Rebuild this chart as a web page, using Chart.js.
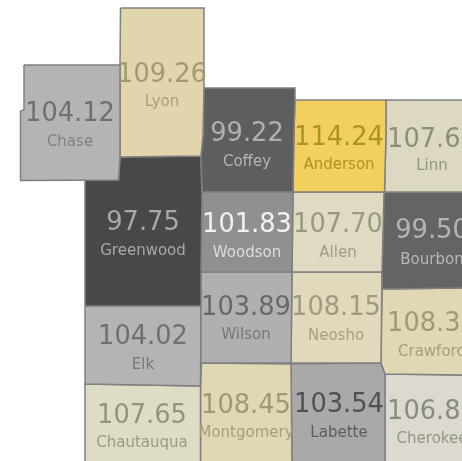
<!DOCTYPE html>
<html>
<head>
<meta charset="utf-8">
<title>Counties</title>
<script src="https://cdn.jsdelivr.net/npm/chart.js@4"></script>
<style>
  html, body { margin: 0; padding: 0; background: #fff; overflow: hidden; }
  canvas { display: block; filter: blur(0.4px); }
</style>
</head>
<body>
<canvas id="countyMap" width="462" height="461"></canvas>
<script>
// county names and the value printed on each one
var counties = ["Chase", "Lyon", "Coffey", "Anderson", "Linn", "Greenwood", "Woodson", "Allen", "Bourbon",
    "Wilson", "Neosho", "Crawford", "Elk", "Chautauqua", "Montgomery", "Labette", "Cherokee"];
var values = [104.12, 109.26, 99.22, 114.24, 107.65, 97.75, 101.83, 107.70, 99.50,
    103.89, 108.15, 108.39, 104.02, 107.65, 108.45, 103.54, 106.85];

// county outlines in map units, [x, y] corners
var outlines = [
    [[24,65],[120,65],[120,157],[118.5,180],[20,180.5],[20.5,111],[24,110]],
    [[120.5,8],[204,8],[204,88],[203,135],[201,156],[120,157],[120,65]],
    [[203.5,88],[295,88],[295,100],[294,130],[293,192],[202,192],[201,156],[203,135]],
    [[295,100],[386,100],[386,135],[384.5,192],[293,192],[294,130]],
    [[386,100],[466,100],[466,192],[384.5,192],[386,135]],
    [[85,180],[118.5,180],[120,157],[201,156],[202,192],[201,272],[201,306],[85,306]],
    [[202,192],[293,192],[292,272],[201,272]],
    [[293,192],[384,192],[382,272],[292,272]],
    [[384,192],[466,192],[466,288],[382,289],[382,272]],
    [[201,272],[292,272],[291,363],[201.5,363],[201,306]],
    [[292,272],[382,272],[381,363],[291,363]],
    [[382,289],[466,288],[466,375],[385,374],[381,363]],
    [[85,306],[201,306],[200.5,386],[85,384]],
    [[85,384],[200.5,386],[200.5,465],[85,465]],
    [[201.5,363],[291,364],[292,465],[200.5,465],[200.5,386]],
    [[291,364],[381,363],[385,374],[385,465],[292,465]],
    [[385,374],[466,375],[466,465],[385,465]]
];

// where each pair of labels sits on the map
var labelX = [70, 162, 247, 339, 432, 143, 247, 338, 432, 246, 336, 432, 143, 142, 246, 339, 432];
var valueY = [114, 75, 134, 138, 140, 223, 225, 225, 231, 308, 308, 324, 337, 416, 406, 405, 412];
var nameY = [142, 102, 162, 165, 166, 251, 253, 253, 260, 335, 336, 352, 365, 443, 433, 433, 439];

var fillColors = ["#b4b4b4", "#e0d5ab", "#5e5e5e", "#f2cf5e", "#dcd8c2", "#484848", "#909090", "#dfdac1", "#646464",
    "#b0b0b0", "#e0d9bb", "#e1d7b4", "#b4b4b4", "#dfdcc6", "#e1d7b3", "#a9a9a9", "#dbd9d0"];
var valueColors = ["#707074", "#a39a70", "#b0b0b0", "#ab9327", "#8f8c7a", "#a8a8a8", "#f2f2f2", "#9b9880", "#b4b4b4",
    "#68686a", "#9f9a80", "#a19876", "#707074", "#959280", "#a19876", "#505055", "#8b8a80"];
var nameColors = ["#808084", "#a89f78", "#b4b4b4", "#ab9327", "#96937f", "#a8a8a8", "#dcdcdc", "#a09c85", "#b8b8b8",
    "#77777a", "#a49f85", "#a69d7b", "#77777a", "#9b9885", "#a69d7b", "#5c5c62", "#96958a"];

var datasets = counties.map(function(name, i) {
    var shape = outlines[i].map(function(p) { return { x: p[0], y: p[1] }; });
    shape.push(shape[0]);
    return {
        label: name,
        data: shape,
        showLine: true,
        fill: "shape",
        tension: 0,
        pointRadius: 0,
        backgroundColor: fillColors[i],
        borderColor: "#808080",
        borderWidth: 1.5
    };
});

// value and county name on top of the shapes
var countyLabels = {
    id: "countyLabels",
    afterDatasetsDraw: function(chart) {
        var ctx = chart.ctx;
        var xs = chart.scales.x;
        var ys = chart.scales.y;
        ctx.save();
        ctx.textAlign = "center";
        ctx.textBaseline = "middle";
        counties.forEach(function(name, i) {
            var x = xs.getPixelForValue(labelX[i]);
            ctx.font = "25.7px 'DejaVu Sans'";
            ctx.fillStyle = valueColors[i];
            ctx.fillText(values[i].toFixed(2), x, ys.getPixelForValue(valueY[i]));
            ctx.font = "15px 'DejaVu Sans'";
            ctx.fillStyle = nameColors[i];
            ctx.fillText(name, x, ys.getPixelForValue(nameY[i]));
        });
        ctx.restore();
    }
};

new Chart(document.getElementById("countyMap"), {
    type: "scatter",
    data: { datasets: datasets },
    plugins: [countyLabels],
    options: {
        responsive: false,
        animation: false,
        layout: { padding: 0 },
        plugins: { legend: { display: false }, tooltip: { enabled: false } },
        scales: {
            x: { type: "linear", display: false, min: 0, max: 462 },
            y: { type: "linear", display: false, reverse: true, min: 0, max: 461 }
        }
    }
});
</script>
</body>
</html>
